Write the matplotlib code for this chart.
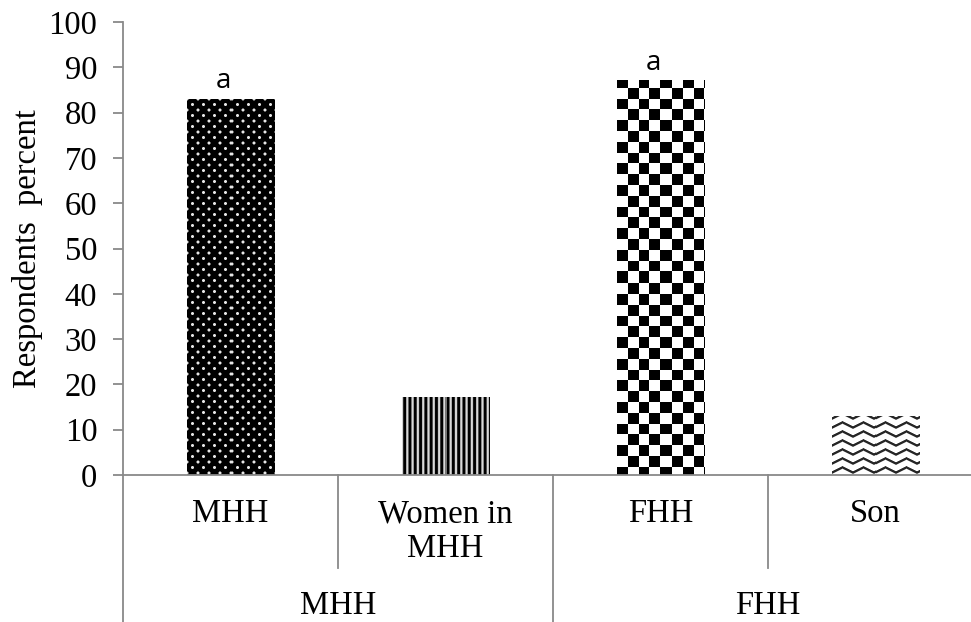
import numpy as np
import matplotlib
matplotlib.use('Agg')
import matplotlib.pyplot as plt
from matplotlib.lines import Line2D
import matplotlib.transforms as mtransforms

categories = ['MHH', 'Women in\nMHH', 'FHH', 'Son']
values = [83, 17, 87, 13]
patterns = ['dots', 'vlines', 'checker', 'waves']
sig_labels = ['a', '', 'a', '']
groups = ['MHH', 'FHH']
yticks = [0, 10, 20, 30, 40, 50, 60, 70, 80, 90, 100]

SERIF = 'Liberation Serif'
GRAY = '#898989'
FS = 23.5

fig = plt.figure(figsize=(9.71, 6.22), dpi=100)
# axes runs a little past the right edge, like the cropped original
ax = fig.add_axes([123 / 971, 147 / 622, 860 / 971, 453 / 622])
ax.set_xlim(0, len(categories))
ax.set_ylim(0, 100)

for s in ('top', 'right'):
    ax.spines[s].set_visible(False)
for s in ('left', 'bottom'):
    ax.spines[s].set_color(GRAY)
    ax.spines[s].set_linewidth(1.3)

ax.set_yticks(yticks)
ax.set_yticklabels([str(t) for t in yticks], fontfamily=SERIF, fontsize=FS)
ax.tick_params(axis='y', direction='out', length=7.5, width=1.3, color=GRAY, pad=11)
ax.set_xticks([])
ax.set_ylabel('Respondents  percent', fontfamily=SERIF, fontsize=FS, labelpad=4)

x = np.arange(len(categories)) + 0.5
bars = ax.bar(x, values, width=0.405, color='none', edgecolor='none')


def make_pattern(kind, nx, ny):
    # pixel grid, row 0 = top of the bar
    xx, yy = np.meshgrid(np.arange(nx) + 0.5, np.arange(ny) + 0.5)
    if kind == 'dots':
        ry, cx = 5.5, 11.0
        k = np.round(yy / ry)
        dy = yy - k * ry
        xs = xx - (k % 2) * cx / 2
        dx = xs - np.round(xs / cx) * cx
        d = np.hypot(dx, dy)
        v = np.clip(2.0 - d, 0, 1) * 0.9
    elif kind == 'vlines':
        p = 5.3
        v = np.clip(0.35 + 0.75 * np.cos(2 * np.pi * xx / p), 0, 1) * 0.85
    elif kind == 'checker':
        c = 10.8
        v = ((np.floor(xx / c) + np.floor((yy + 3) / c)) % 2).astype(float)
    else:
        per, gap, amp = 21.0, 9.0, 2.6
        ph = (xx % per) / per
        tri = np.abs(2 * ph - 1) * 2 - 1
        off = (yy - amp * tri) % gap
        dist = np.minimum(off, gap - off)
        v = 1 - np.clip(1.8 - dist, 0, 1) * 0.85
    return v


for bar, kind in zip(bars, patterns):
    x0, y0 = bar.get_x(), bar.get_y()
    x1, y1 = x0 + bar.get_width(), y0 + bar.get_height()
    (px0, py0), (px1, py1) = ax.transData.transform([(x0, y0), (x1, y1)])
    nx, ny = int(round(px1 - px0)), int(round(py1 - py0))
    img = make_pattern(kind, nx, ny)
    ax.imshow(img, cmap='gray', vmin=0, vmax=1, extent=(x0, x1, y0, y1),
              origin='upper', interpolation='nearest', aspect='auto', zorder=2)

ax.set_xlim(0, len(categories))
ax.set_ylim(0, 100)

for xi, v, lab in zip(x, values, sig_labels):
    if lab:
        ax.text(xi - 0.033, v + 2.4, lab, ha='center', va='baseline',
                fontfamily='Open Sans', fontsize=20)

trans = mtransforms.blended_transform_factory(ax.transData, ax.transAxes)

# category labels
for xi, cat in zip(x, categories):
    ax.text(xi, -0.052, cat, transform=trans, ha='center', va='top',
            fontfamily=SERIF, fontsize=FS, linespacing=1.2)

# group labels
for gi, g in enumerate(groups):
    ax.text(2 * gi + 1, -0.307, g, transform=trans, ha='center', va='baseline',
            fontfamily=SERIF, fontsize=FS)

# divider lines below the axis
div_lines = [(0, -0.33), (1, -0.205), (2, -0.33), (3, -0.205)]
for dx, dy in div_lines:
    ax.add_line(Line2D([dx, dx], [0, dy], transform=trans, color=GRAY,
                       linewidth=1.3, clip_on=False))

fig.savefig('out.png', dpi=100)
